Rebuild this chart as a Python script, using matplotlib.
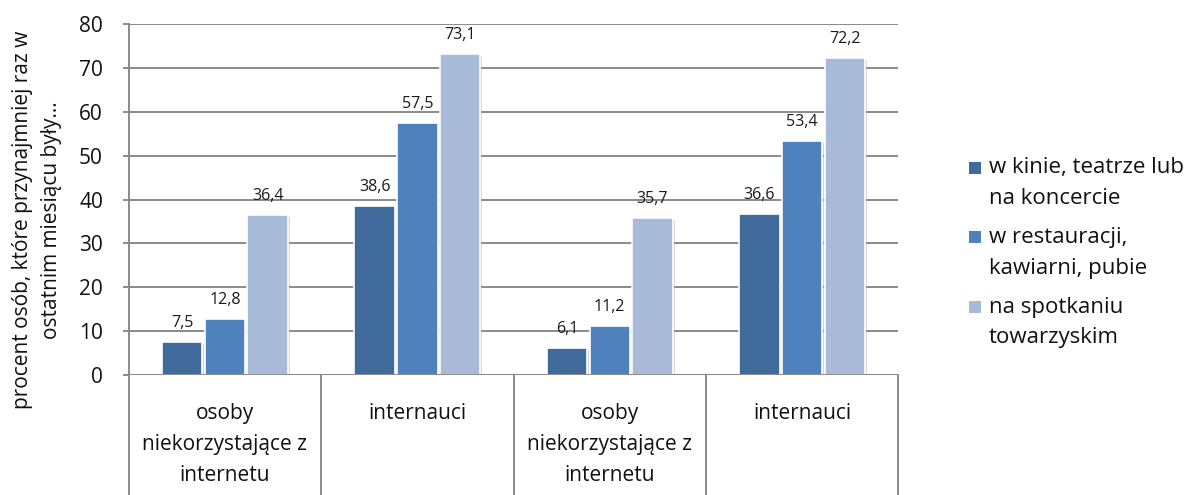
import matplotlib
matplotlib.use("Agg")
import matplotlib.pyplot as plt
import matplotlib.patheffects as pe
from matplotlib.patches import Rectangle
import numpy as np

categories = ["osoby\nniekorzystające z\ninternetu", "internauci",
              "osoby\nniekorzystające z\ninternetu", "internauci"]
series_names = ["w kinie, teatrze lub\nna koncercie",
                "w restauracji,\nkawiarni, pubie",
                "na spotkaniu\ntowarzyskim"]
kino = [7.5, 38.6, 6.1, 36.6]
restauracja = [12.8, 57.5, 11.2, 53.4]
spotkanie = [36.4, 73.1, 35.7, 72.2]
yticks = [0, 10, 20, 30, 40, 50, 60, 70, 80]
ylabel = "procent osób, które przynajmniej raz w\nostatnim miesiącu były..."

colors = ["#3F6A9B", "#4F81BD", "#A9BAD8"]
grid_col = "#8A8A8A"
font = ["Open Sans", "DejaVu Sans"]
plt.rcParams['font.family'] = font

W, H = 1197, 495
fig = plt.figure(figsize=(W / 100, H / 100), dpi=100)
ax = fig.add_axes([0.1075, 0.2424, 0.643, 0.709])

x = np.arange(len(categories))
width = 0.21
spacing = 0.222
all_series = [kino, restauracja, spotkanie]
for i, (vals, col, name) in enumerate(zip(all_series, colors, series_names)):
    bars = ax.bar(x + (i - 1) * spacing, vals, width, color=col, edgecolor="white",
                  linewidth=1.2, label=name, zorder=3,
                  path_effects=[pe.SimplePatchShadow(offset=(1.5, -1.5), shadow_rgbFace="#aaaaaa", alpha=0.45),
                                pe.Normal()])
    for b, v in zip(bars, vals):
        ax.annotate(f"{v:.1f}".replace(".", ","), (b.get_x() + b.get_width() / 2, v),
                    xytext=(0, 8), textcoords="offset points", ha="center", va="bottom",
                    fontsize=11.5, color="#1a1a1a", zorder=4)

ax.set_xlim(-0.5, 3.5)
ax.set_ylim(0, 80)
ax.set_yticks(yticks)
ax.set_yticklabels([str(t) for t in yticks], fontsize=15, color="#111111")
ax.yaxis.grid(True, color=grid_col, linewidth=1.4, zorder=0)
ax.tick_params(axis="y", length=4.5, width=1.4, color=grid_col, pad=14)
ax.tick_params(axis="x", length=0, labelbottom=False)
for s in ["top", "right", "bottom"]:
    ax.spines[s].set_visible(False)
ax.spines["left"].set_color(grid_col)
ax.spines["left"].set_linewidth(1.4)
ax.axhline(0, color=grid_col, linewidth=1.4, zorder=5)

# category table below
ext = -0.345
for b in np.arange(-0.5, 4.0, 1.0):
    ax.plot([b, b], [0, ext], transform=ax.get_xaxis_transform(), color=grid_col,
            lw=1.4, clip_on=False)
for xi, c in zip(x, categories):
    ax.text(xi, -0.079, c, transform=ax.get_xaxis_transform(), ha="center", va="top",
            fontsize=15, linespacing=1.63, color="#111111")

fig.text(0.031, 0.556, ylabel, rotation=90, ha="center", va="center", fontsize=15,
         linespacing=1.5, color="#111111")

# legend drawn manually: square aligned with the first line of each entry
first_line_y = 168
entry_step = 69.5
line_step = 31
for i, (name, col) in enumerate(zip(series_names, colors)):
    y0 = first_line_y + i * entry_step
    sq = 12
    fig.patches.append(Rectangle(((969) / W, 1 - (y0 + sq / 2) / H), sq / W, sq / H,
                                 transform=fig.transFigure, facecolor=col, edgecolor="none"))
    for j, line in enumerate(name.split("\n")):
        fig.text(989 / W, 1 - (y0 + j * line_step) / H, line, ha="left", va="center",
                 fontsize=16, color="#111111")

fig.savefig("out.png", dpi=100)
